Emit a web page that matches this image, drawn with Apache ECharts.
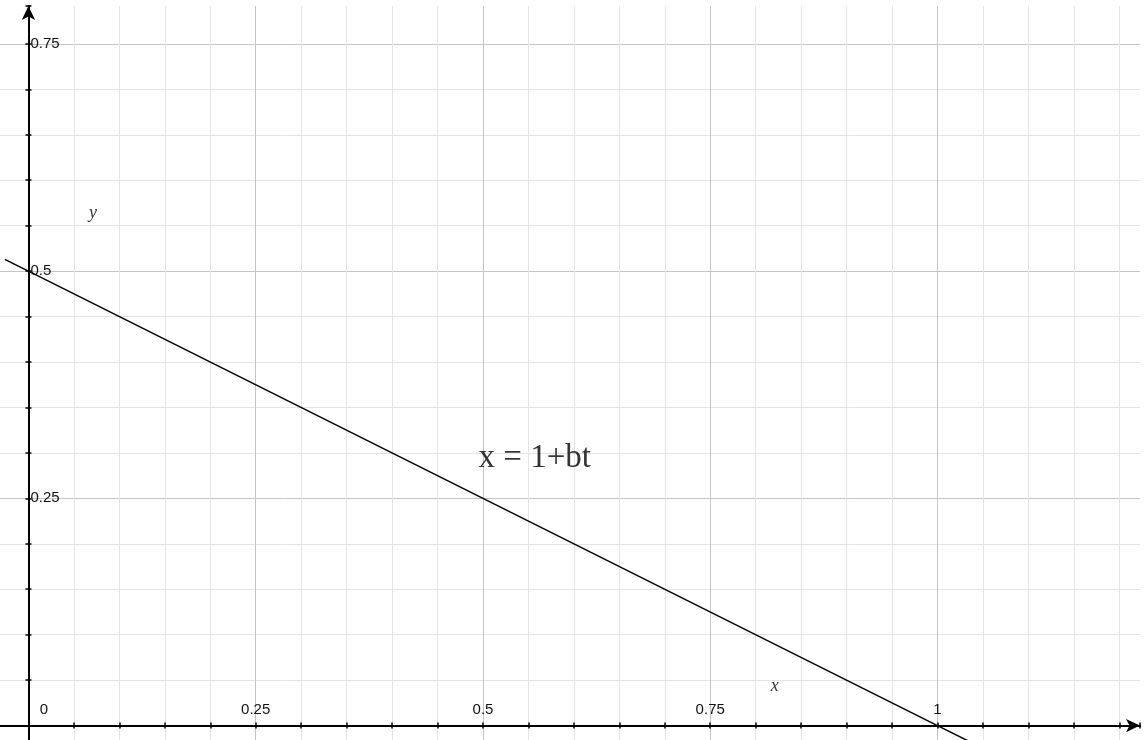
<!DOCTYPE html>
<html>
<head>
<meta charset="utf-8">
<script src="https://cdn.jsdelivr.net/npm/echarts@6/dist/echarts.min.js"></script>
<style>
html,body{margin:0;padding:0;background:#fff;}
#chart{width:1145px;height:740px;}
</style>
</head>
<body>
<div id="chart"></div>
<script>
// Data
const lineX = [-0.026, 0, 0.5, 1, 1.04];
const lineY = [0.513, 0.5, 0.25, 0, -0.02];
const majorTicks = [0, 0.25, 0.5, 0.75, 1];
const annotationTexts = ['y', 'x', 'x = 1+bt'];

const chart = echarts.init(document.getElementById('chart'), null, {renderer: 'canvas'});

function isMajor(v) {
  return majorTicks.some(function (m) { return Math.abs(v - m) < 1e-6; });
}
const MINOR = '#e4e4e4', MAJOR = '#c4c4c4';
const splitColors = [MINOR, MAJOR, MINOR, MINOR, MINOR];

const XMIN = -0.05, XMAX = 1.2228, YMIN = -0.05, YMAX = 0.7917;
// pixel layout of the plotting window
const G_LEFT = -17, G_RIGHT = 5, G_TOP = 6, G_BOTTOM = -31;
const ZERO_X_OFF = 45.45;            // distance from grid left edge to x=0
const ZERO_Y_OFF = 45.45;            // distance from grid bottom edge to y=0
const GRID_W = 1145 - G_LEFT - G_RIGHT;
const GRID_H = 740 - G_TOP - G_BOTTOM;

const tickStyle = {show: true, length: 3, lineStyle: {color: '#000', width: 1.5}};
const fontSans = 'Liberation Sans, Arial, sans-serif';

const option = {
  animation: false,
  backgroundColor: '#fff',
  grid: {left: G_LEFT, right: G_RIGHT, top: G_TOP, bottom: G_BOTTOM, containLabel: false, outerBoundsMode: 'none'},
  xAxis: [{
    type: 'value', min: XMIN, max: XMAX, interval: 0.05, position: 'bottom', offset: -ZERO_Y_OFF,
    axisLine: {onZero: false, symbol: ['none', 'arrow'], symbolSize: [10, 14],
      lineStyle: {color: '#000', width: 2}},
    axisTick: tickStyle,
    axisLabel: {
      inside: true, margin: 8, color: '#111', fontSize: 15, fontFamily: fontSans,
      formatter: function (v) {
        if (Math.abs(v) < 1e-6) return '{z|0}';
        return isMajor(v) ? String(Math.round(v * 100) / 100) : '';
      },
      rich: {z: {padding: [0, 0, 0, 31], fontSize: 15, color: '#111', fontFamily: fontSans}}
    },
    splitLine: {show: true, showMaxLine: false, lineStyle: {color: splitColors, width: 1}}
  }, {
    type: 'value', min: XMIN, max: XMAX, interval: 0.05, position: 'top', offset: -(GRID_H - ZERO_Y_OFF),
    axisLine: {show: false, onZero: false},
    axisTick: tickStyle,
    axisLabel: {show: false},
    splitLine: {show: false}
  }],
  yAxis: [{
    type: 'value', min: YMIN, max: YMAX, interval: 0.05, position: 'left', offset: -ZERO_X_OFF,
    axisLine: {onZero: false, symbol: ['none', 'arrow'], symbolSize: [10, 14],
      lineStyle: {color: '#000', width: 2}},
    axisTick: tickStyle,
    axisLabel: {
      inside: true, margin: 2, color: '#111', fontSize: 15, fontFamily: fontSans,
      formatter: function (v) {
        if (Math.abs(v) < 1e-6) return '';
        return isMajor(v) ? String(Math.round(v * 100) / 100) : '';
      }
    },
    splitLine: {show: true, showMaxLine: false, lineStyle: {color: splitColors, width: 1}}
  }, {
    type: 'value', min: YMIN, max: YMAX, interval: 0.05, position: 'right', offset: -(GRID_W - ZERO_X_OFF),
    axisLine: {show: false, onZero: false},
    axisTick: tickStyle,
    axisLabel: {show: false},
    splitLine: {show: false}
  }],
  series: [{
    type: 'line',
    xAxisIndex: 0, yAxisIndex: 0,
    data: lineX.map(function (x, i) { return [x, lineY[i]]; }),
    showSymbol: false, symbol: 'none',
    lineStyle: {color: '#000', width: 1.5},
    clip: false,
    z: 5
  }, {
    type: 'scatter',
    xAxisIndex: 0, yAxisIndex: 0,
    symbolSize: 0,
    silent: true,
    data: [
      {value: [0.071, 0.564], label: {formatter: annotationTexts[0], fontStyle: 'italic', fontSize: 18}},
      {value: [0.821, 0.0437], label: {formatter: annotationTexts[1], fontStyle: 'italic', fontSize: 18}},
      {value: [0.557, 0.294], label: {formatter: annotationTexts[2], fontSize: 33}}
    ],
    label: {show: true, position: 'inside', color: '#000', fontFamily: 'Liberation Serif, Times New Roman, serif'},
    z: 6
  }]
};
chart.setOption(option);
</script>
</body>
</html>
